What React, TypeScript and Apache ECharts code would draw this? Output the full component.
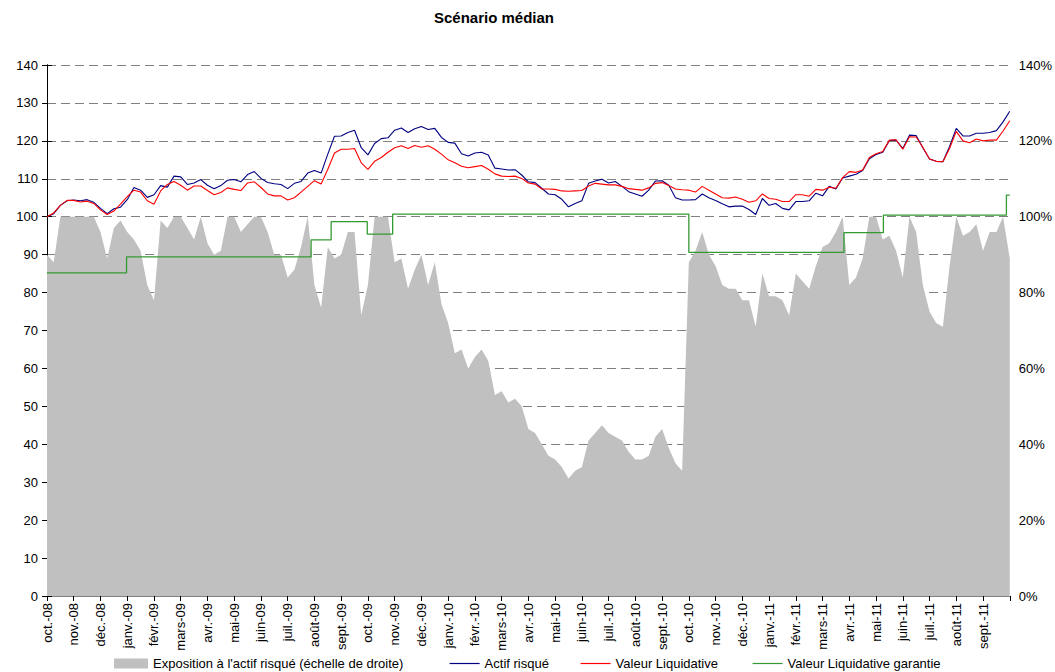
import React, { useEffect, useRef } from 'react';
import * as echarts from 'echarts';

// Month tick labels (one tick per month start)
const months = [
  'oct.-08', 'nov.-08', 'déc.-08', 'janv.-09', 'févr.-09', 'mars-09', 'avr.-09', 'mai-09', 'juin-09',
  'juil.-09', 'août-09', 'sept.-09', 'oct.-09', 'nov.-09', 'déc.-09', 'janv.-10', 'févr.-10', 'mars-10',
  'avr.-10', 'mai-10', 'juin-10', 'juil.-10', 'août-10', 'sept.-10', 'oct.-10', 'nov.-10', 'déc.-10',
  'janv.-11', 'févr.-11', 'mars-11', 'avr.-11', 'mai-11', 'juin-11', 'juil.-11', 'août-11', 'sept.-11',
];

// roughly weekly samples, 4 per month
const WEEKS_PER_MONTH = 4;

// Exposition à l'actif risqué (%), right axis
const exposure = [
  90, 88, 100, 100, 100, 100, 100, 100, 96, 89,
  97, 99, 96, 94, 91, 82, 78, 99, 97, 100,
  100, 97, 94, 100, 93, 90, 91, 100, 100, 96,
  98, 100, 100, 96, 90, 90, 84, 86, 92, 100,
  82, 76, 92, 89, 90, 96, 96, 74, 82, 100,
  100, 100, 88, 89, 81, 86, 90, 82, 88, 77,
  72, 64, 65, 60, 63, 65, 62, 53, 54, 51,
  52, 50, 44, 43, 40, 37, 36, 34, 31, 33,
  34, 41, 43, 45, 43, 42, 41, 38, 36, 36,
  37, 42, 44, 39, 35, 33, 88, 91, 96, 90,
  87, 82, 81, 81, 78, 78, 71, 85, 79, 79,
  78, 74, 85, 83, 81, 87, 92, 93, 96, 100,
  82, 84, 89, 100, 100, 94, 95, 91, 84, 100,
  96, 82, 75, 72, 71, 87, 100, 95, 96, 98,
  91, 96, 96, 100, 89,
];

// Actif risqué
const actifRisque = [
  100, 100.8, 103, 104.2, 104.4, 104.2, 104.5, 103.8, 102.2, 100.8,
  102.1, 102.5, 104.5, 107.7, 107, 105.1, 105.8, 108.2, 107.8, 110.7,
  110.5, 108.5, 108.9, 109.8, 108.3, 107.4, 108.2, 109.6, 109.8, 109.2,
  111.1, 111.9, 110.1, 109, 108.7, 108.5, 107.4, 108.8, 109.3, 111.5,
  112.2, 111.5, 116.5, 121.2, 121.3, 122.2, 122.8, 118.2, 116.3, 119.3,
  120.6, 120.8, 122.8, 123.4, 122.2, 123.2, 123.8, 123, 123.3, 120.9,
  119.6, 119.4, 116.6, 116, 116.8, 117, 116.3, 112.8, 112.6, 112.3,
  112.4, 111, 109.2, 109, 107.5, 106, 105.8, 104.6, 102.6, 103.5,
  104.2, 108.8, 109.4, 109.9, 108.9, 109.3, 108, 106.6, 106, 105.4,
  107, 109.4, 109.5, 108.3, 105, 104.4, 104.4, 104.5, 106, 105,
  104.3, 103.4, 102.6, 102.8, 102.8, 101.9, 100.6, 104.8, 103, 103.5,
  102.2, 101.8, 104, 104, 104.2, 106.2, 105.5, 108, 107.3, 110.2,
  110.7, 111.2, 112.2, 115.3, 116.4, 117, 120.1, 120.2, 118, 121.5,
  121.4, 118.2, 115.2, 114.6, 114.5, 118.5, 123.3, 121.3, 121.3, 122,
  122, 122.2, 122.7, 125, 127.8,
];

// Valeur Liquidative
const valeurLiquidative = [
  100, 101, 103, 104.3, 104.3, 103.9, 104.1, 103.5, 101.8, 100.6,
  101.5, 103.3, 105.3, 107, 106.5, 104.2, 103.3, 106.8, 108.5, 109.3,
  108.3, 107, 108.1, 108.1, 106.9, 105.8, 106.4, 107.6, 107.2, 106.9,
  108.9, 109.2, 107.7, 106, 105.5, 105.5, 104.4, 105, 106.5, 108,
  109.5, 108.6, 112.5, 116.8, 117.8, 117.8, 118, 114.2, 112.5, 114.6,
  115.6, 117, 118.2, 118.7, 118, 118.8, 118.3, 118.7, 117.8, 116.5,
  115, 114.2, 113.3, 112.9, 113.2, 113.5, 112.5, 111.3, 110.7, 110.6,
  110.7, 110.1, 108.9, 108.6, 107.3, 107.3, 107.2, 106.8, 106.7, 106.8,
  106.9, 108.1, 108.8, 108.6, 108.4, 108.4, 108, 107.4, 107.2, 107,
  107.6, 108.8, 109, 108.2, 107.3, 107.1, 107, 106.5, 108, 107,
  106, 105, 104.9, 105.2, 104.6, 103.8, 104.2, 106, 104.8, 104.6,
  104, 104, 105.8, 105.8, 105.4, 107.2, 107, 107.8, 107.5, 110.3,
  111.9, 111.7, 112.3, 115.6, 116.6, 117.2, 120.2, 120.3, 117.8, 121.1,
  121, 118.3, 115.2, 114.6, 114.5, 118, 122.5, 120, 119.5, 120.5,
  120, 120.2, 120.2, 122.6, 125.3,
];

// Valeur Liquidative garantie: [week where level starts, level]
const garantieSteps: [number, number][] = [
  [0, 85.2], [11.9, 89.4], [39.5, 93.9], [42.5, 98.7], [47.9, 95.4], [51.7, 100.7],
  [96, 90.6], [119.2, 95.8], [125.1, 100.4], [143.5, 105.7], [144, 105.7],
];

const FONT = 'Liberation Sans, Arial, sans-serif';
const N = months.length * WEEKS_PER_MONTH;

const C_EXPO = '#C0C0C0';
const C_ACTIF = '#000080';
const C_VL = '#FF0000';
const C_GAR = '#339933';

const weekly = (arr: number[]) => arr.map((v, i) => [i, v]);

const legendBase = {
  orient: 'horizontal' as const,
  top: 657,
  padding: 0,
  selectedMode: false,
  textStyle: { fontFamily: FONT, fontSize: 13, color: '#000' },
};

const lineLegend = (name: string, left: number) => ({
  ...legendBase,
  left,
  itemWidth: 30,
  itemHeight: 12,
  itemStyle: { opacity: 0 },
  lineStyle: { width: 1.2, opacity: 1 },
  data: [name],
});

const option: any = {
  animation: false,
  backgroundColor: '#fff',
  title: {
    text: 'Scénario médian',
    left: 494,
    top: 10,
    padding: 0,
    textAlign: 'center',
    textStyle: { fontFamily: FONT, fontSize: 15, fontWeight: 'bold', color: '#000' },
  },
  legend: [
    {
      ...legendBase,
      left: 114,
      icon: 'rect',
      itemWidth: 34,
      itemHeight: 10,
      data: ["Exposition à l'actif risqué (échelle de droite)"],
    },
    lineLegend('Actif risqué', 449),
    lineLegend('Valeur Liquidative', 580),
    lineLegend('Valeur Liquidative garantie', 752),
  ],
  grid: { left: 47, right: 42, top: 65, bottom: 76, containLabel: false },
  xAxis: [
    {
      type: 'value',
      min: 0,
      max: N,
      interval: WEEKS_PER_MONTH,
      axisLine: { show: true, lineStyle: { color: '#000', width: 1 } },
      axisTick: { show: true, length: 5, lineStyle: { color: '#000' } },
      axisLabel: {
        rotate: 90,
        margin: 7,
        fontFamily: FONT,
        fontSize: 13,
        color: '#000',
        showMinLabel: true,
        showMaxLabel: true,
        formatter: (v: number) => (v % WEEKS_PER_MONTH === 0 ? months[v / WEEKS_PER_MONTH] ?? '' : ''),
      },
      splitLine: { show: false },
    },
    {
      type: 'value',
      position: 'top',
      min: 0,
      max: N,
      axisLine: { show: true, lineStyle: { color: '#808080', width: 1 } },
      axisTick: { show: false },
      axisLabel: { show: false },
      splitLine: { show: false },
    },
  ],
  yAxis: [
    {
      type: 'value',
      min: 0,
      max: 140,
      interval: 10,
      axisLine: { show: true, lineStyle: { color: '#000', width: 1 } },
      axisTick: { show: true, length: 5, lineStyle: { color: '#000' } },
      axisLabel: { margin: 9, fontFamily: FONT, fontSize: 13, color: '#000' },
      splitLine: { show: true, lineStyle: { color: '#808080', width: 1, type: [9, 5] } },
    },
    {
      type: 'value',
      min: 0,
      max: 140,
      interval: 20,
      position: 'right',
      axisLine: { show: true, lineStyle: { color: '#000', width: 1 } },
      axisTick: { show: true, length: 5, lineStyle: { color: '#000' } },
      axisLabel: { margin: 9, fontFamily: FONT, fontSize: 13, color: '#000', formatter: '{value}%' },
      splitLine: { show: false },
    },
  ],
  series: [
    {
      name: "Exposition à l'actif risqué (échelle de droite)",
      type: 'line',
      yAxisIndex: 1,
      data: weekly(exposure),
      symbol: 'none',
      color: C_EXPO,
      lineStyle: { width: 0 },
      itemStyle: { color: C_EXPO },
      areaStyle: { color: C_EXPO, opacity: 1 },
      z: 1,
    },
    {
      name: 'Actif risqué',
      type: 'line',
      data: weekly(actifRisque),
      symbol: 'none',
      color: C_ACTIF,
      itemStyle: { color: C_ACTIF },
      lineStyle: { color: C_ACTIF, width: 1.1 },
      z: 3,
    },
    {
      name: 'Valeur Liquidative',
      type: 'line',
      data: weekly(valeurLiquidative),
      symbol: 'none',
      color: C_VL,
      itemStyle: { color: C_VL },
      lineStyle: { color: C_VL, width: 1.1 },
      z: 4,
    },
    {
      name: 'Valeur Liquidative garantie',
      type: 'line',
      step: 'end',
      data: garantieSteps,
      symbol: 'none',
      color: C_GAR,
      itemStyle: { color: C_GAR },
      lineStyle: { color: C_GAR, width: 1.3 },
      z: 5,
    },
  ],
};

export default function App() {
  const ref = useRef<HTMLDivElement>(null);
  useEffect(() => {
    document.body.style.margin = '0';
    const chart = echarts.init(ref.current as HTMLDivElement, undefined, { renderer: 'svg' });
    chart.setOption(option);
    return () => chart.dispose();
  }, []);
  return <div ref={ref} style={{ width: 1055, height: 672, background: '#fff' }} />;
}
